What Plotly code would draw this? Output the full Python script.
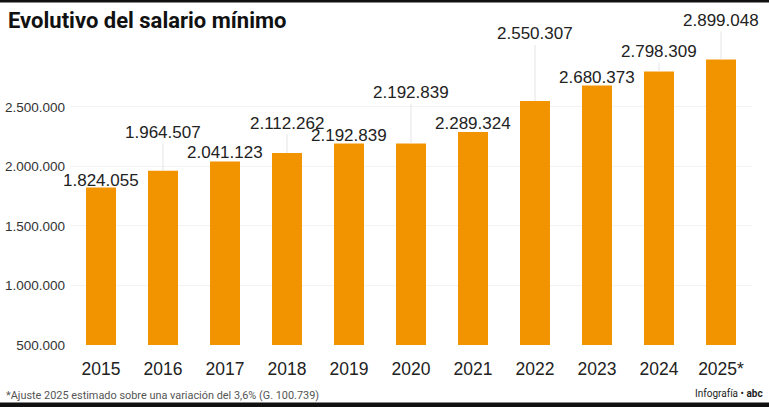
import plotly.graph_objects as go

# ---- data ----
years = ["2015", "2016", "2017", "2018", "2019", "2020", "2021", "2022", "2023", "2024", "2025*"]
salario = [1824055, 1964507, 2041123, 2112262, 2192839, 2192839, 2289324, 2550307, 2680373, 2798309, 2899048]
etiquetas = ["1.824.055", "1.964.507", "2.041.123", "2.112.262", "2.192.839", "2.192.839",
             "2.289.324", "2.550.307", "2.680.373", "2.798.309", "2.899.048"]
tick_vals = [500000, 1000000, 1500000, 2000000, 2500000]
tick_text = ["500.000", "1.000.000", "1.500.000", "2.000.000", "2.500.000"]

# label lift above bar top (pixels) - style/placement only
label_lift_px = [7, 38, 9, 30, 8, 51, 9, 67, 8, 20, 39]

BAR = "#F29400"
TXT = "#222222"
NARROW = "Roboto, Liberation Sans Narrow, DejaVu Sans Condensed, sans-serif"
SANS = "Liberation Sans, Arial, Helvetica, sans-serif"

W, H = 769, 407
ML, MR, MT, MB = 70, 17, 56, 62

fig = go.Figure(go.Bar(
    x=years, y=salario, marker_color=BAR, marker_line_width=0,
    hoverinfo="skip", cliponaxis=False,
))

annotations = []
for i, (v, lab, lift) in enumerate(zip(salario, etiquetas, label_lift_px)):
    if lift > 15:
        annotations.append(dict(
            x=i, y=v, xref="x", yref="y", text=lab, showarrow=True,
            ax=0, ay=-lift, arrowhead=0, arrowwidth=1, arrowcolor="#e4e4e4",
            standoff=0, startstandoff=0,
            font=dict(family=SANS, size=17, color=TXT),
        ))
    else:
        annotations.append(dict(
            x=i, y=v, xref="x", yref="y", text=lab, showarrow=False,
            yshift=lift, yanchor="middle", xanchor="center",
            font=dict(family=SANS, size=17, color=TXT),
        ))

pw = W - ML - MR
ph = H - MT - MB
def px_x(x):
    return (x - ML) / pw
def px_y(y):
    return 1 - (y - MT) / ph

# title
annotations.append(dict(
    x=px_x(6), y=px_y(20), xref="paper", yref="paper", xanchor="left", yanchor="middle",
    text="<b>Evolutivo del salario mínimo</b>", showarrow=False,
    font=dict(family=NARROW, size=22, color="#111111"),
))
# footnote
annotations.append(dict(
    x=px_x(4), y=px_y(395), xref="paper", yref="paper", xanchor="left", yanchor="middle",
    text="*Ajuste 2025 estimado sobre una variación del 3,6% (G. 100.739)", showarrow=False,
    font=dict(family=NARROW, size=10.9, color="#555555"),
))
# credit
annotations.append(dict(
    x=px_x(765), y=px_y(393), xref="paper", yref="paper", xanchor="right", yanchor="middle",
    text="Infografía • <b>abc</b>", showarrow=False,
    font=dict(family=NARROW, size=10, color="#222222"),
))

shapes = [
    dict(type="rect", xref="paper", yref="paper", x0=px_x(0), x1=px_x(W), y0=px_y(0), y1=px_y(2.5),
         fillcolor="#111111", line_width=0, layer="above"),
    dict(type="rect", xref="paper", yref="paper", x0=px_x(0), x1=px_x(W), y0=px_y(402.5), y1=px_y(H),
         fillcolor="#111111", line_width=0, layer="above"),
]

fig.update_layout(
    width=W, height=H,
    margin=dict(l=ML, r=MR, t=MT, b=MB, autoexpand=False),
    paper_bgcolor="white", plot_bgcolor="white",
    bargap=0.516,
    showlegend=False,
    annotations=annotations,
    shapes=shapes,
    xaxis=dict(
        type="category", range=[-0.5, len(years) - 0.5], autorange=False,
        showgrid=False, showline=False, ticks="",
        tickfont=dict(family=SANS, size=17.5, color=TXT),
        ticklabelstandoff=11,
    ),
    yaxis=dict(
        range=[500000, 2928000], autorange=False, tickvals=tick_vals, ticktext=tick_text,
        showgrid=True, gridcolor="#f3f3f3", gridwidth=1,
        zeroline=False, showline=False, ticks="",
        tickfont=dict(family=SANS, size=13.5, color="#333333"),
        ticklabelstandoff=4,
    ),
)

fig.write_html("out.html", config={"displayModeBar": False},
               post_script="document.body.style.margin='0';")
